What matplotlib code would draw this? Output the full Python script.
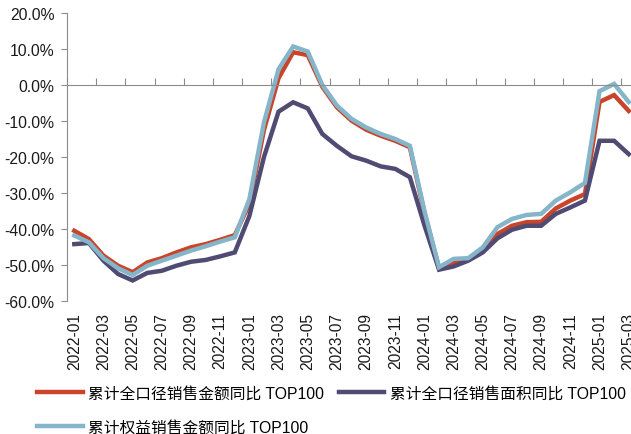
"""TOP100 developers: cumulative YoY sales growth, 2022-01 to 2025-03."""

import numpy as np

import matplotlib
matplotlib.use("Agg")
import matplotlib.pyplot as plt
from matplotlib.transforms import blended_transform_factory

plt.rcParams["font.family"] = ["Liberation Sans", "Noto Sans CJK SC", "DejaVu Sans"]

months = [f"{y}-{m:02d}" for y in (2022, 2023, 2024) for m in range(1, 13)]
months += ["2025-01", "2025-02", "2025-03"]

# cumulative YoY, %
amount_full = [-40.5, -42.8, -47.4, -50.2, -52.0, -49.3, -48.1, -46.5, -45.1, -44.2, -43.0, -41.7,
               -33.0, -12.5, 1.9, 9.1, 8.3, -0.5, -6.2, -9.9, -12.4, -14.1, -15.5, -17.3,
               -35.5, -50.9, -49.4, -48.3, -46.0, -41.4, -39.1, -38.1, -38.0, -34.3, -32.1, -30.3,
               -4.7, -2.8, -7.2]
area_full = [-44.2, -43.9, -48.8, -52.5, -54.3, -52.2, -51.6, -50.2, -49.1, -48.6, -47.6, -46.5,
             -36.4, -20.0, -7.4, -4.8, -6.5, -13.6, -16.9, -19.8, -21.0, -22.6, -23.3, -25.6,
             -39.0, -51.3, -50.4, -48.8, -46.5, -42.6, -40.2, -39.1, -39.1, -35.8, -34.0, -32.1,
             -15.5, -15.5, -19.2]
amount_equity = [-41.8, -43.7, -48.1, -50.9, -52.8, -50.2, -48.8, -47.4, -46.0, -44.8, -43.5, -42.3,
                 -31.7, -10.4, 4.4, 10.7, 9.3, 0.0, -5.7, -9.4, -11.8, -13.6, -15.0, -16.9,
                 -35.0, -50.6, -48.3, -48.1, -45.1, -39.5, -37.2, -36.1, -35.8, -32.1, -29.8, -27.2,
                 -1.7, 0.3, -4.7]

labels = ["累计全口径销售金额同比 TOP100", "累计全口径销售面积同比 TOP100", "累计权益销售金额同比 TOP100"]
colors = ["#C9442A", "#504B73", "#85B5C9"]
grey = "#8C8C8C"

fig = plt.figure(figsize=(6.31, 4.35), dpi=100)
ax = fig.add_axes([67 / 631, 133 / 435, 569 / 631, 288 / 435])

x = np.arange(len(months))
lines = []
for series, label, color in zip([amount_full, area_full, amount_equity], labels, colors):
    (ln,) = ax.plot(x, series, color=color, lw=3.2, label=label, solid_joinstyle="miter")
    lines.append(ln)

ax.set_xlim(-0.5, len(months) - 0.5)
ax.set_ylim(-60, 20)
ax.set_yticks(np.arange(-60, 21, 10))
ax.set_yticklabels([f"{v:.1f}%" for v in np.arange(-60, 21, 10)], fontsize=11.3)

for side in ("top", "right"):
    ax.spines[side].set_visible(False)
ax.spines["left"].set_color(grey)
ax.spines["bottom"].set_color(grey)
ax.spines["bottom"].set_position(("data", 0))
ax.tick_params(axis="y", colors=grey, labelcolor="#1A1A1A", length=4, pad=5)
ax.tick_params(axis="x", colors=grey, direction="in", length=5, labelbottom=False)
ax.set_xticks(np.arange(-0.5, len(months) - 1, 2))

# category labels under the plot area
trans = blended_transform_factory(ax.transData, ax.transAxes)
for i in range(0, len(months), 2):
    ax.annotate(months[i], xy=(i, 0), xycoords=trans, xytext=(0, -8),
                textcoords="offset points", rotation=90, ha="center", va="top",
                fontsize=11.2, color="#1A1A1A", annotation_clip=False)

# row-wise order: red, purple on first row, blue on second
fig.legend([lines[0], lines[2], lines[1]], [labels[0], labels[2], labels[1]],
           loc="upper left", bbox_to_anchor=(37 / 631, 0.112), ncol=2, frameon=False,
           borderpad=0, borderaxespad=0, handlelength=2.9, handletextpad=0.35,
           columnspacing=0.95, labelspacing=1.25, fontsize=11.3)

fig.savefig("out.png", dpi=100)
plt.close(fig)
